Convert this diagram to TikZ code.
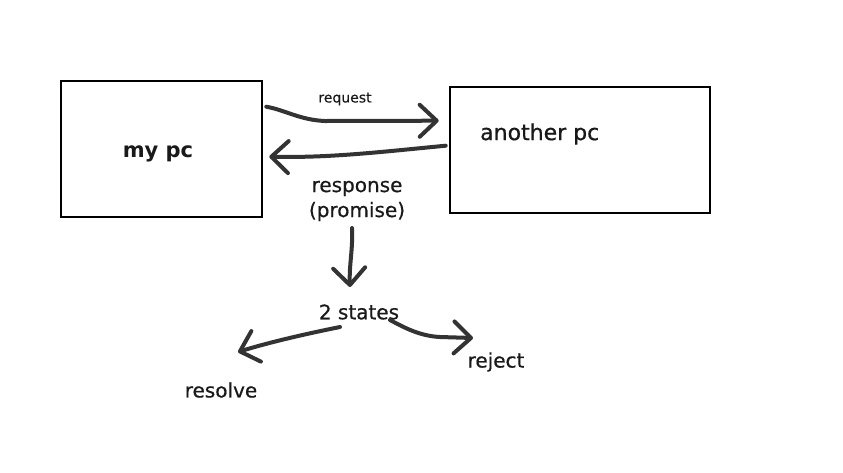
\documentclass[tikz,border=0pt]{standalone}
\usepackage{fontspec}
\setmainfont{DejaVu Sans}
\usetikzlibrary{arrows.meta}
\definecolor{ink}{HTML}{333333}
\tikzset{
  pcbox/.style={draw=black, line width=2.6pt, fill=white, inner sep=0pt},
  arr/.style={draw=ink, line width=4pt, line cap=round, line join=round,
    -{Straight Barb[length=17pt,width=32pt,round]}},
  lbl/.style={inner sep=0pt, text=black!90},
  mid/.style={lbl, font=\fontsize{20}{25}\selectfont\addfontfeature{FakeBold=0.6}}
}
\begin{document}
\begin{tikzpicture}[x=1pt,y=-1pt]
\useasboundingbox (0,0) rectangle (843,472);
\fill[white] (0,0) rectangle (843,472);
\node[pcbox, minimum width=201pt, minimum height=136pt] (my) at (161.5,149) {};
\node[pcbox, minimum width=260pt, minimum height=126pt] (other) at (580,150) {};
\node[lbl, font=\fontsize{21}{25}\selectfont\bfseries] (mylbl) at (158,154) {my pc};
\node[lbl, font=\fontsize{22}{26}\selectfont\addfontfeature{FakeBold=0.6}, anchor=west] (otherlbl) at (480,134) {another pc};
\node[lbl, font=\fontsize{14}{17}\selectfont\addfontfeature{FakeBold=0.3}] (req) at (345,99) {request};
\node[mid, align=center] (resp) at (357,201) {response\\(promise)};
\node[mid] (states) at (359,312) {2 states};
\node[mid] (reject) at (496,362) {reject};
\node[mid] (resolve) at (221,390) {resolve};
% request
\draw[arr] ([shift={(3,27)}]my.north east) .. controls (285,110) and (300,120) .. (325,121)
  -- ([shift={(-10,35)}]other.north west);
% response
\draw[arr] ([shift={(-3,60)}]other.north west) .. controls (380,152) and (330,158) .. ([shift={(6,77)}]my.north east);
% down to states
\draw[arr] ([shift={(-5,27)}]resp.center) .. controls (353,250) and (349,265) .. ([shift={(-9,-25)}]states.center);
% left to resolve
\draw[arr] ([shift={(-19,15)}]states.center) .. controls (310,333) and (270,342) .. ([shift={(17,-38)}]resolve.center);
% right to reject
\draw[arr] ([shift={(31,8)}]states.center) .. controls (405,328) and (420,336) .. (440,337)
  -- ([shift={(-23,-24)}]reject.center);
\end{tikzpicture}
\end{document}
